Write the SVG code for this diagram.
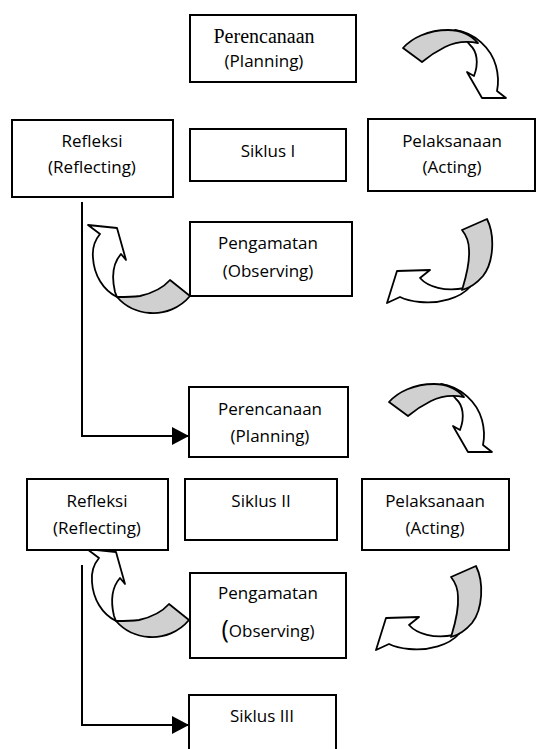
<svg xmlns="http://www.w3.org/2000/svg" width="536" height="749" viewBox="0 0 536 749">
<style>
.box{fill:#fff;stroke:#000;stroke-width:2}
.t{font-family:"Open Sans","Noto Sans","Liberation Sans",sans-serif;font-size:17px;fill:#000;text-anchor:middle}
.s{font-family:"Liberation Serif","Times New Roman",serif;font-size:20px;fill:#000;text-anchor:middle}
.w{fill:#fff;stroke:#000;stroke-width:1.8;stroke-linejoin:round}
.g{fill:#d0d0d0;stroke:#000;stroke-width:1.8;stroke-linejoin:round}
.ln{fill:none;stroke:#000;stroke-width:2}
</style>
<defs>
<marker id="ah" markerWidth="18" markerHeight="18" refX="17" refY="9" orient="auto" markerUnits="userSpaceOnUse">
<path d="M0,0 L17,9 L0,18 Z" fill="#000"/>
</marker>
<g id="arrDown">
<path class="w" d="M455,30 C475,33 491,48 496,66 C499,77 498,86 497,91 L506,98 L482,98 L467,72 L474,76 C479,63 477,51 470,45 C466,40 461,34 455,30 Z"/>
<path class="g" d="M403,48 C412,38 428,30 448,30 C462,30 472,36 478,43 C468,41 455,42 445,47 C437,51 428,57 422,62 Z"/>
</g>
<g id="arrLeft">
<path class="w" d="M387,303 L397,271 L430,270 L420,278 C428,287 445,292 465,288 L470,287 C460,298 440,304 420,302 C410,301 404,299 400,297 Z"/>
<path class="g" d="M462,230 L487,219 C495,235 494,262 483,276 C477,283 470,288 462,290 C465,280 470,265 469,250 C469,242 466,235 462,230 Z"/>
</g>
<g id="arrUp">
<path class="w" d="M117,297 C103,290 94,275 93,258 C92,248 95,240 100,234 L88,225 L117,228 L126,260 L121,254 C114,262 111,275 115,292 Z"/>
<path class="g" d="M170,280 L190,296 C180,308 165,314 150,313 C135,312 124,305 117,297 C124,297 132,297 140,296 C153,293 163,288 170,280 Z"/>
</g>
</defs>

<g id="connectors">
<polyline class="ln" points="82,202 82,436 189,436" marker-end="url(#ah)"/>
<polyline class="ln" points="82,565 82,725 189,725" marker-end="url(#ah)"/>
<use href="#arrDown"/>
<use href="#arrLeft"/>
<use href="#arrUp"/>
<use href="#arrDown" transform="translate(-14,354)"/>
<use href="#arrLeft" transform="translate(-11,347)"/>
<use href="#arrUp" transform="translate(-1,324)"/>
</g>

<g id="plan1">
<rect class="box" x="190" y="15" width="166" height="67"/>
<text class="s" x="264" y="43">Perencanaan</text>
<text class="t" x="264" y="67">(Planning)</text>
</g>
<g id="refl1">
<rect class="box" x="12" y="120" width="161" height="77"/>
<text class="t" x="92" y="147">Refleksi</text>
<text class="t" x="92" y="173">(Reflecting)</text>
</g>
<g id="siklus1">
<rect class="box" x="190" y="129" width="156" height="52"/>
<text class="t" x="268" y="157">Siklus I</text>
</g>
<g id="act1">
<rect class="box" x="368" y="119" width="167" height="72"/>
<text class="t" x="452" y="147">Pelaksanaan</text>
<text class="t" x="452" y="173">(Acting)</text>
</g>
<g id="obs1">
<rect class="box" x="190" y="222" width="162" height="74"/>
<text class="t" x="268" y="249">Pengamatan</text>
<text class="t" x="268" y="277">(Observing)</text>
</g>
<g id="plan2">
<rect class="box" x="189" y="387" width="159" height="70"/>
<text class="t" x="270" y="415">Perencanaan</text>
<text class="t" x="270" y="442">(Planning)</text>
</g>
<g id="refl2">
<rect class="box" x="27" y="479" width="141" height="71"/>
<text class="t" x="97" y="507">Refleksi</text>
<text class="t" x="97" y="534">(Reflecting)</text>
</g>
<g id="siklus2">
<rect class="box" x="185" y="479" width="152" height="61"/>
<text class="t" x="261" y="507">Siklus II</text>
</g>
<g id="act2">
<rect class="box" x="362" y="479" width="147" height="71"/>
<text class="t" x="435" y="507">Pelaksanaan</text>
<text class="t" x="435" y="534">(Acting)</text>
</g>
<g id="obs2">
<rect class="box" x="190" y="573" width="156" height="85"/>
<text class="t" x="268" y="599">Pengamatan</text>
<text class="t" x="268" y="637"><tspan font-size="25" dy="1">(</tspan><tspan dy="-1">Observing)</tspan></text>
</g>
<g id="siklus3">
<rect class="box" x="189" y="695" width="147" height="60"/>
<text class="t" x="262" y="722">Siklus III</text>
</g>
</svg>
